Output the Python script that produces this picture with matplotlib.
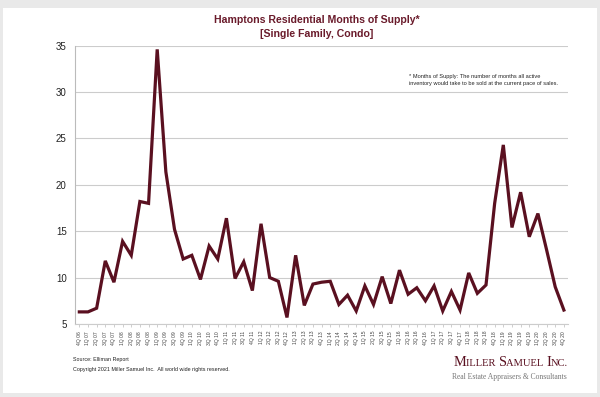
import matplotlib
matplotlib.use("Agg")
import matplotlib.pyplot as plt
from matplotlib.patches import Rectangle
from matplotlib.offsetbox import TextArea, HPacker, AnnotationBbox

# quarters 4Q 06 .. 4Q 20
quarters = ["4Q 06"] + ["%dQ %02d" % (q, y) for y in range(7, 21) for q in range(1, 5)]

months_supply = [6.3, 6.3, 6.7, 11.8, 9.5, 13.9, 12.4, 18.2, 18.0, 34.6,
                 21.4, 15.2, 12.0, 12.4, 9.8, 13.4, 12.0, 16.4, 9.9, 11.7,
                 8.6, 15.8, 10.0, 9.6, 5.7, 12.4, 7.0, 9.3, 9.5, 9.6,
                 7.1, 8.1, 6.4, 9.1, 7.1, 10.1, 7.2, 10.8, 8.2, 8.9,
                 7.5, 9.1, 6.4, 8.5, 6.5, 10.5, 8.3, 9.2, 18.0, 24.3,
                 15.4, 19.2, 14.4, 16.9, 13.0, 9.0, 6.5]

y_ticks = [5, 10, 15, 20, 25, 30, 35]

maroon = "#5a1020"
title_col = "#6a1b2b"

plt.rcParams["font.family"] = ["Liberation Sans", "DejaVu Sans"]

fig = plt.figure(figsize=(6, 3.97), dpi=100)
fig.patch.set_facecolor("#e9e9e9")
# white card behind everything
fig.patches.append(Rectangle((3 / 600, 4 / 397), 594 / 600, 385 / 397,
                             transform=fig.transFigure, facecolor="white",
                             edgecolor="none", zorder=-10))

ax = fig.add_axes([0.125, 0.184, 0.822, 0.701])
ax.patch.set_alpha(0)
x = list(range(len(quarters)))
ax.plot(x, months_supply, color=maroon, linewidth=2.3, solid_joinstyle="miter", zorder=3)

ax.set_xlim(-0.5, len(quarters) - 0.5)
ax.set_ylim(5, 35)
ax.set_yticks(y_ticks)
ax.set_yticklabels([str(v) for v in y_ticks], fontsize=7, color="#222222")
ax.set_xticks(x)
ax.set_xticklabels(quarters, rotation=90, fontsize=3.6, color="#444444")
ax.tick_params(axis="y", length=0, pad=6)
ax.tick_params(axis="x", length=2, width=0.5, color="#bbbbbb", pad=3)
ax.grid(axis="y", color="#cccccc", linewidth=0.8)
ax.set_axisbelow(True)
for s in ["top", "right"]:
    ax.spines[s].set_visible(False)
ax.spines["left"].set_color("#bbbbbb")
ax.spines["bottom"].set_color("#cccccc")
ax.spines["left"].set_linewidth(0.8)
ax.spines["bottom"].set_linewidth(0.8)

fig.text(317 / 600, 1 - 20 / 397, "Hamptons Residential Months of Supply*",
         ha="center", va="center", fontsize=7.6, fontweight="bold", color=title_col)
fig.text(317 / 600, 1 - 34 / 397, "[Single Family, Condo]",
         ha="center", va="center", fontsize=7.6, fontweight="bold", color=title_col)

fig.text(409 / 600, 1 - 80 / 397,
         "* Months of Supply: The number of months all active\n"
         "inventory would take to be sold at the current pace of sales.",
         ha="left", va="center", fontsize=4.05, color="#222222", linespacing=1.5)

fig.text(73 / 600, 1 - 360 / 397, "Source: Elliman Report",
         ha="left", va="center", fontsize=3.9, color="#222222")
fig.text(73 / 600, 1 - 370 / 397,
         "Copyright 2021 Miller Samuel Inc.  All world wide rights reserved.",
         ha="left", va="center", fontsize=3.9, color="#222222")

# logo, small caps done by hand
big = dict(fontsize=10.3, color=maroon, family="Liberation Serif")
small = dict(fontsize=7.6, color=maroon, family="Liberation Serif")
parts = [("M", big), ("ILLER ", small), ("S", big), ("AMUEL ", small),
         ("I", big), ("NC.", small)]
box = HPacker(children=[TextArea(t, textprops=p) for t, p in parts],
              align="baseline", pad=0, sep=0)
fig.add_artist(AnnotationBbox(box, (568 / 600, 1 - 362 / 397), xycoords="figure fraction",
                              box_alignment=(1, 0.5), frameon=False))
fig.text(567 / 600, 1 - 377 / 397, "Real Estate Appraisers & Consultants",
         ha="right", va="center", fontsize=5.5, color="#777777",
         family="Liberation Serif")

fig.savefig("out.png", dpi=100, facecolor=fig.get_facecolor())
